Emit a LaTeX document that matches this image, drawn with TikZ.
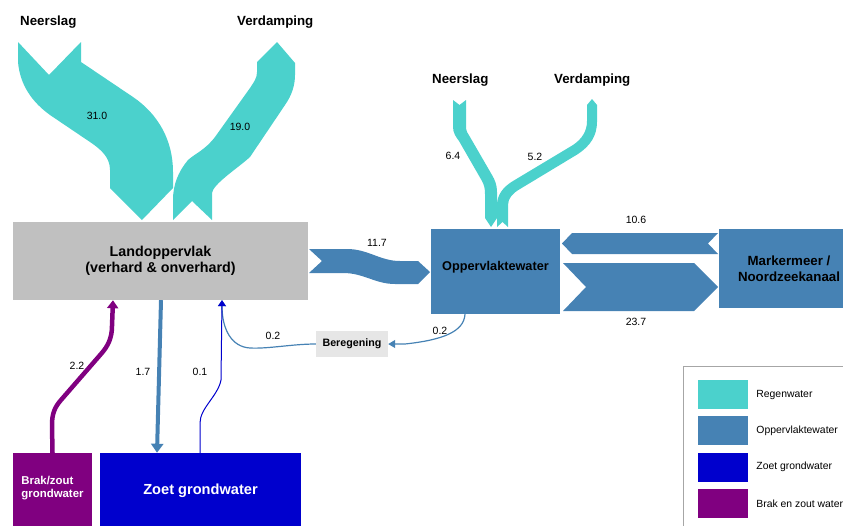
\documentclass[tikz,border=0pt]{standalone}
\usepackage{fontspec}
\setmainfont{Liberation Sans}
\usetikzlibrary{positioning,arrows.meta}

\definecolor{regen}{HTML}{4BD1CC}
\definecolor{opper}{HTML}{4682B4}
\definecolor{zoetc}{HTML}{0000CD}
\definecolor{brakc}{HTML}{800080}
\definecolor{landc}{HTML}{C0C0C0}
\definecolor{beregc}{HTML}{E6E6E6}
\definecolor{legline}{HTML}{A6A6A6}

\begin{document}
\begin{tikzpicture}[x=1pt, y=-1pt,
  every node/.style={font=\fontsize{10.5}{12}\selectfont},
  box/.style={draw=none, inner sep=0pt, align=center, font=\fontsize{13.3}{15.5}\selectfont\bfseries},
  head/.style={font=\fontsize{13.3}{15}\selectfont\bfseries, inner sep=0pt, anchor=base west},
  num/.style={font=\fontsize{10.5}{12}\selectfont, inner sep=0pt},
  pipe/.style={line cap=butt},
  swatch/.style={minimum width=50pt, minimum height=29pt, inner sep=0pt},
  legtxt/.style={font=\fontsize{10.4}{12}\selectfont, inner sep=0pt}]

\useasboundingbox (0,0) rectangle (843,525);
\clip (0,0) rectangle (843,525);

\node[box, fill=landc, minimum width=295pt, minimum height=78pt, font=\fontsize{14.3}{15.5}\selectfont\bfseries] (land) at (160.5,261) {Landoppervlak\\(verhard \& onverhard)};
\node[box, fill=opper, minimum width=129pt, minimum height=85pt, font=\fontsize{12.7}{15}\selectfont\bfseries, text depth=11pt] (opp) at (495.5,271.5) {Oppervlaktewater};
\node[box, fill=opper, minimum width=140pt, minimum height=79pt] (mark) at (789,268.5) {Markermeer /\\Noordzeekanaal};
\node[box, fill=beregc, minimum width=72pt, minimum height=26pt, font=\fontsize{10.7}{12}\selectfont\bfseries] (bereg) at (352,344) {Beregening};
\node[box, fill=brakc, text=white, minimum width=79pt, minimum height=76pt, align=left, font=\fontsize{11.4}{13}\selectfont\bfseries, text depth=8pt] (brak) at (52.5,491) {Brak/zout\\grondwater};
\node[box, fill=zoetc, text=white, minimum width=201pt, minimum height=76pt, font=\fontsize{14.6}{16}\selectfont\bfseries] (zoet) at (200.5,491) {Zoet grondwater};

\node[head] (nsl1) at (20,25.5) {Neerslag};
\node[head] (vdp1) at (237,25.5) {Verdamping};
\node[head] (nsl2) at (432,83.5) {Neerslag};
\node[head] (vdp2) at (554,83.5) {Verdamping};

\fill[regen] (18,42) -- (49,75) -- (81,42) -- (81,62) -- (133,97)
  .. controls (158,114) and (173,140) .. (173,172) -- (173,188) -- (142,220) -- (110,188) -- (110,170)
  .. controls (110,158) and (102,150) .. (90,142) -- (50,115)
  .. controls (32,102) and (20,85) .. (18,62) -- cycle;
\fill[regen] (173,220) -- (192,201) -- (212,220) -- (212,193)
  .. controls (213,184) and (238,168) .. (250,157) -- (285,105)
  .. controls (292,95) and (295,85) .. (295,75) -- (295,63) -- (277,42) -- (257,62) -- (257,72)
  .. controls (257,78) and (254,82) .. (250,88) -- (215,137)
  .. controls (205,150) and (196,153) .. (188,160)
  .. controls (178,172) and (173,185) .. (173,200) -- cycle;
\fill[regen] (453,100) -- (459.5,105) -- (466,100) -- (466,127)
  .. controls (466,131) and (468,134) .. (470,137) -- (492,175)
  .. controls (495,180) and (497,185) .. (497,192) -- (497,218) -- (491,227) -- (485,218) -- (485,194)
  .. controls (485,188) and (484,185) .. (482,181) -- (459,141)
  .. controls (456,137) and (453,133) .. (453,127) -- cycle;
\fill[regen] (497,227) -- (502.5,222) -- (508,227) -- (508,205)
  .. controls (508,198) and (513,193) .. (520,189) -- (578,154)
  .. controls (590,146) and (597,136) .. (597,122) -- (597,105) -- (592,99) -- (587,105) -- (587,121)
  .. controls (587,131) and (582,139) .. (573,145) -- (513,181)
  .. controls (503,187) and (497,195) .. (497,205) -- cycle;

\fill[opper] (309,249) -- (347,249) .. controls (368,249) and (380,261) .. (400,261) -- (418,261) -- (430,272)
  -- (418,284) -- (395,284) .. controls (375,284) and (364,273) .. (343,273) -- (309,273) -- (322,261) -- cycle;
\fill[opper] (718,233) -- (572,233) -- (562,243.5) -- (572,254) -- (718,254) -- (708,243.5) -- cycle;
\fill[opper] (563,263) -- (694,263) -- (718,287) -- (694,311) -- (563,311) -- (586,287) -- cycle;

\draw[pipe, brakc, line width=4.5pt, -{Triangle[width=11pt,length=8pt]}] (brak.north) -- (52,425)
  .. controls (52,413) and (55,407) .. (61,400) -- (101,354)
  .. controls (108,346) and (112,338) .. (112,326) -- ([xshift=-47.5pt]land.south);
\draw[pipe, opper, line width=4pt, -{Triangle[width=12pt,length=9pt]}] ([xshift=0.5pt]land.south) -- ([xshift=-43.5pt]zoet.north);
\draw[pipe, opper, line width=1.2pt, -{Triangle[width=8pt,length=7pt]}] ([xshift=-30.5pt]opp.south)
  .. controls (464,332) and (442,340) .. (405,344) -- (bereg.east);
\draw[pipe, opper, line width=1.2pt, -{Triangle[width=8pt,length=6pt]}] (bereg.west)
  .. controls (292,344) and (268,349) .. (250,348)
  .. controls (232,347) and (222,330) .. ([xshift=61.5pt]land.south);
\draw[pipe, zoetc, line width=1pt, -{Triangle[width=8pt,length=6pt]}] ([xshift=-0.5pt]zoet.north) -- (200,423)
  .. controls (200,408) and (218,396) .. (221,380) -- ([xshift=61.5pt]land.south);

\node[num] (l31) at (97,116) {31.0};
\node[num] (l19) at (240,127) {19.0};
\node[num] (l64) at (453,156) {6.4};
\node[num] (l52) at (535,157) {5.2};
\node[num] (l117) at (377,243) {11.7};
\node[num] (l106) at (636,220) {10.6};
\node[num] (l237) at (636,322) {23.7};
\node[num] (l02a) at (440,331) {0.2};
\node[num] (l02b) at (273,336) {0.2};
\node[num] (l22) at (77,366) {2.2};
\node[num] (l17) at (143,372) {1.7};
\node[num] (l01) at (200,372) {0.1};

\draw[legline, line width=0.8pt] (683,366) rectangle (860,540);
\node[swatch, fill=regen] (sw1) at (723,394.5) {};
\node[legtxt, right=8pt of sw1] (lg1) {Regenwater};
\node[swatch, fill=opper, below=7pt of sw1] (sw2) {};
\node[legtxt, right=8pt of sw2] (lg2) {Oppervlaktewater};
\node[swatch, fill=zoetc, below=7pt of sw2] (sw3) {};
\node[legtxt, right=8pt of sw3] (lg3) {Zoet grondwater};
\node[swatch, fill=brakc, below=7pt of sw3] (sw4) {};
\node[legtxt, right=8pt of sw4] (lg4) {Brak en zout water};
\end{tikzpicture}
\end{document}
